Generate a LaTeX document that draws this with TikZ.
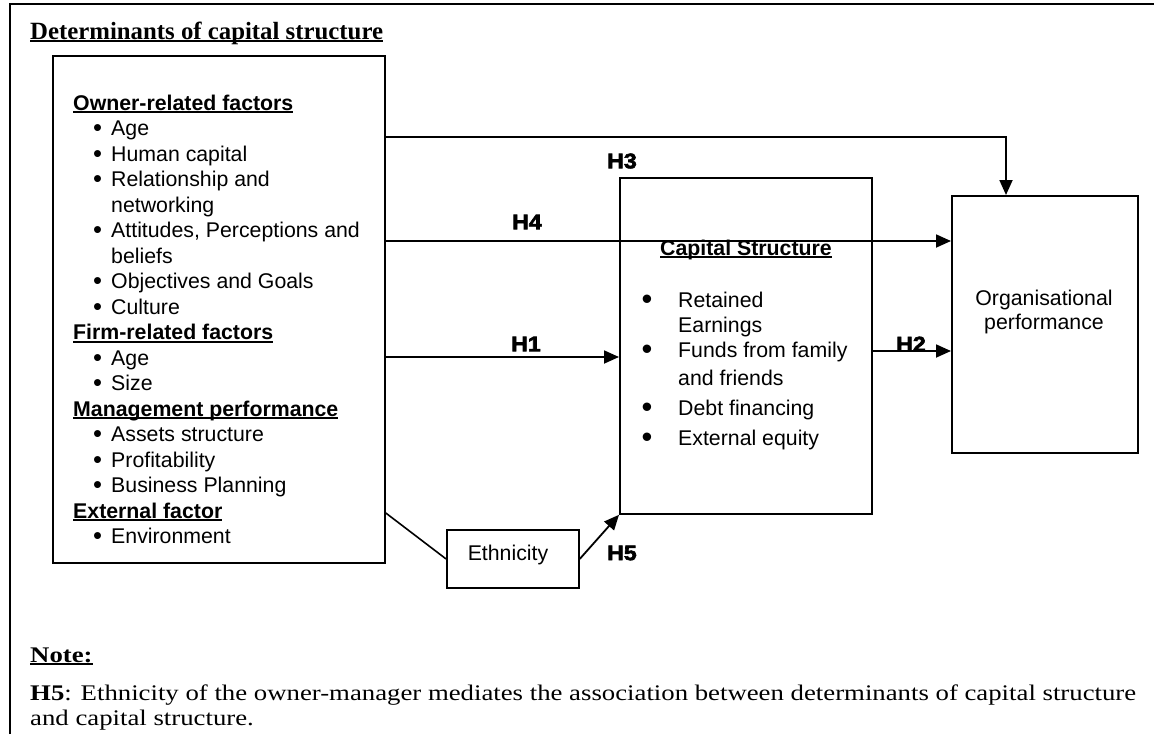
\documentclass[tikz,border=0pt]{standalone}
\usepackage{fontspec}
\usepackage{graphicx}
\setmainfont{Liberation Serif}
\newfontfamily\arialf{Liberation Sans}
\newfontfamily\notef[FakeStretch=1.2]{Liberation Serif}
\newfontfamily\hypf[FakeStretch=1.1,BoldFeatures={FakeBold=3}]{Liberation Sans}
\usetikzlibrary{arrows.meta}

% underlined text with a word-processor style rule just below the baseline
\newcommand\myul[1]{\leavevmode\sbox0{#1}\rlap{\rule[-3.2pt]{\wd0}{1.9pt}}\usebox0}
% list item markers for the determinants box
\newcommand\lbul{\hspace*{19.8pt}\makebox[18.2pt][l]{\raisebox{-1pt}{\scalebox{1.2}{•}}}}
\newcommand\lcont{\hspace*{38pt}}
% list item markers for the capital structure box
\newcommand\cbul{\makebox[36.7pt][l]{\raisebox{-2.5pt}{\scalebox{1.45}{•}}}}
\newcommand\ccont{\hspace*{36.7pt}}

\tikzset{
  box/.style={draw, line width=1.8pt, inner sep=0pt, anchor=north west},
  arr/.style={line width=1.8pt, -{Triangle[length=15pt,width=13pt]}},
  conn/.style={line width=1.6pt},
  frame/.style={line width=1.8pt},
  hlab/.style={font=\hypf\bfseries\fontsize{21}{24}\selectfont, inner sep=0pt},
  txt/.style={anchor=base west, inner sep=0pt},
}

\begin{document}
\begin{tikzpicture}[x=1pt, y=-1pt]
\useasboundingbox (0,0) rectangle (1154,734);

% outer frame
\draw[frame] (10,734) -- (10,4) -- (1154,4);

% title
\node[txt] (title) at (30,39)
  {\fontsize{24.8}{28}\selectfont\bfseries\myul{Determinants of capital structure}};

% boxes
\node[box, minimum width=332pt, minimum height=507pt] (det) at (52,55) {};
\node[box, minimum width=252pt, minimum height=336pt] (cap) at (619,177) {};
\node[box, minimum width=186pt, minimum height=257pt] (org) at (951,195) {};
\node[box, minimum width=132pt, minimum height=58pt] (eth) at (446,529) {};

% determinants list
\node[txt] (dettext) at (73,110) {\parbox[t]{310pt}{\arialf\fontsize{21.3}{25.5}\selectfont
\myul{\textbf{Owner-related factors}}\\
\lbul Age\\
\lbul Human capital\\
\lbul Relationship and\\
\lcont networking\\
\lbul Attitudes, Perceptions and\\
\lcont beliefs\\
\lbul Objectives and Goals\\
\lbul Culture\\
\myul{\textbf{Firm-related factors}}\\
\lbul Age\\
\lbul Size\\
\myul{\textbf{Management performance}}\\
\lbul Assets structure\\
\lbul Profitability\\
\lbul Business Planning\\
\myul{\textbf{External factor}}\\
\lbul Environment}};

% capital structure list
\node[txt] (captext) at (641.3,255) {\parbox[t]{225pt}{\arialf\fontsize{21.3}{25}\selectfont
\hspace*{18.7pt}\myul{\textbf{Capital Structure}}\\[27pt]
\cbul Retained\\
\ccont Earnings\\
\cbul Funds from family\\[3pt]
\ccont and friends\\[5pt]
\cbul Debt financing\\[5pt]
\cbul External equity}};

% outcome and mediator texts
\node[txt, anchor=base] (orgtext) at (1044,305)
  {\parbox[t]{180pt}{\centering\arialf\fontsize{21.3}{24}\selectfont Organisational\\performance}};
\node[txt, anchor=base] (ethtext) at (508,560)
  {\arialf\fontsize{21.3}{24}\selectfont Ethnicity};

% hypothesis labels
\node[hlab] (lh3) at (622,161) {H3};
\node[hlab] (lh4) at (527,222) {H4};
\node[hlab] (lh1) at (526,344) {H1};
\node[hlab] (lh2) at (911,344) {H2};
\node[hlab] (lh5) at (622,553) {H5};

% connectors
\coordinate (h3turn) at (1006,137);
\coordinate (h4y) at (0,241);
\coordinate (h1y) at (0,357);
\coordinate (h2y) at (0,351);
\coordinate (ety) at (0,513);
\draw[arr] (det.east |- h3turn) -- (h3turn) -- (h3turn |- org.north);
\draw[arr] (det.east |- h4y) -- (org.west |- h4y);
\draw[arr] (det.east |- h1y) -- (cap.west |- h1y);
\draw[arr] (cap.east |- h2y) -- (org.west |- h2y);
\draw[conn] (det.east |- ety) -- (eth.west);
\draw[arr] (eth.east) -- (cap.south west);

% note
\node[txt] (note) at (30,662) {\notef\fontsize{22.3}{25}\selectfont\myul{\textbf{Note:}}};
\node[txt] (notetext) at (30,700) {\parbox[t]{1124pt}{\notef\fontsize{22.3}{25}\selectfont
\mbox{\textbf{H5}: Ethnicity of the owner-manager mediates the association between determinants of capital structure}\\
\mbox{and capital structure.}}};
\end{tikzpicture}
\end{document}
